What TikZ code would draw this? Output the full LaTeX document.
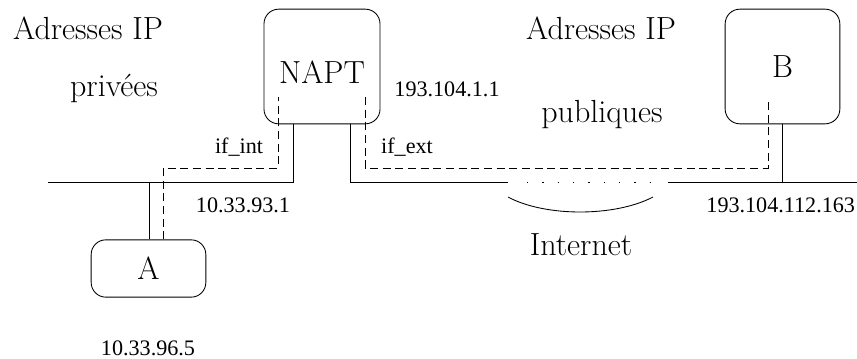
\documentclass[tikz,border=0pt]{standalone}
\usepackage{fontspec}
\newfontfamily\addrfont{Liberation Serif}
\usepackage{tikz}
\usetikzlibrary{positioning}

\begin{document}
\begin{tikzpicture}[x=0.75pt,y=-0.75pt,line width=0.65pt,
 every node/.style={font=\fontsize{24}{28}\selectfont},
 host/.style={draw,rounded corners=11pt,inner sep=0pt},
 addr/.style={font=\addrfont\fontsize{16.6}{19}\selectfont,inner sep=0pt},
 path/.style={dash pattern=on 6pt off 3.5pt}]
 \useasboundingbox (0,0) rectangle (857,359);
 % machines
 \node[host,minimum width=87pt,minimum height=86pt,text height=25pt,text depth=0pt] (napt) at (322,66.5) {NAPT};
 \node[host,minimum width=86pt,minimum height=86pt] (b) at (782.5,66.5) {B};
 \node[host,minimum width=86pt,minimum height=43pt] (a) at (148.5,268.5) {A};
 % reseaux
 \coordinate (lanl) at (48,182);
 \coordinate (lanr) at (293,182);
 \coordinate (wanl) at (350,182);
 \coordinate (gap1) at (508,182);
 \coordinate (gap2) at (668,182);
 \coordinate (wanr) at (857,182);
 \draw (napt.south -| lanr)--(lanr)--(lanl);
 \draw (napt.south -| wanl)--(wanl)--(gap1);
 \draw (gap2)--(wanr);
 \draw[dash pattern=on 1pt off 10.5pt] (527,182)--(650,182);
 \draw (a.north -| 149,0)--(149,182);
 \draw (b.south)--(b.south |- wanr);
 % chemin A -> B
 \draw[path] (a.north -| 163,0)--(163,168)--(278,168)--(278,97);
 \draw[path] (365,97)--(365,168)--(768,168)--(768,102);
 % internet
 \coordinate (c1) at (508,197);
 \coordinate (c2) at (653,197);
 \draw (c1) .. controls (545,217) and (615,217) .. (c2);
 \node (inet) at (581,245) {Internet};
 % textes
 \node (adr1) at (88,28) {Adresses IP};
 \node (priv) at (114,88) {privées};
 \node (adr2) at (601,28) {Adresses IP};
 \node (pub) at (602,115) {publiques};
 \node[addr] (ifint) at (239,147) {if\_int};
 \node[addr] (ifext) at (407,147) {if\_ext};
 \node[addr] (ipint) at (243,205) {10.33.93.1};
 \node[addr] (ipa) at (148,348) {10.33.96.5};
 \node[addr] (ipext) at (447,89) {193.104.1.1};
 \node[addr,anchor=west] (ipb) at (706,205) {193.104.112.163};
\end{tikzpicture}
\end{document}
